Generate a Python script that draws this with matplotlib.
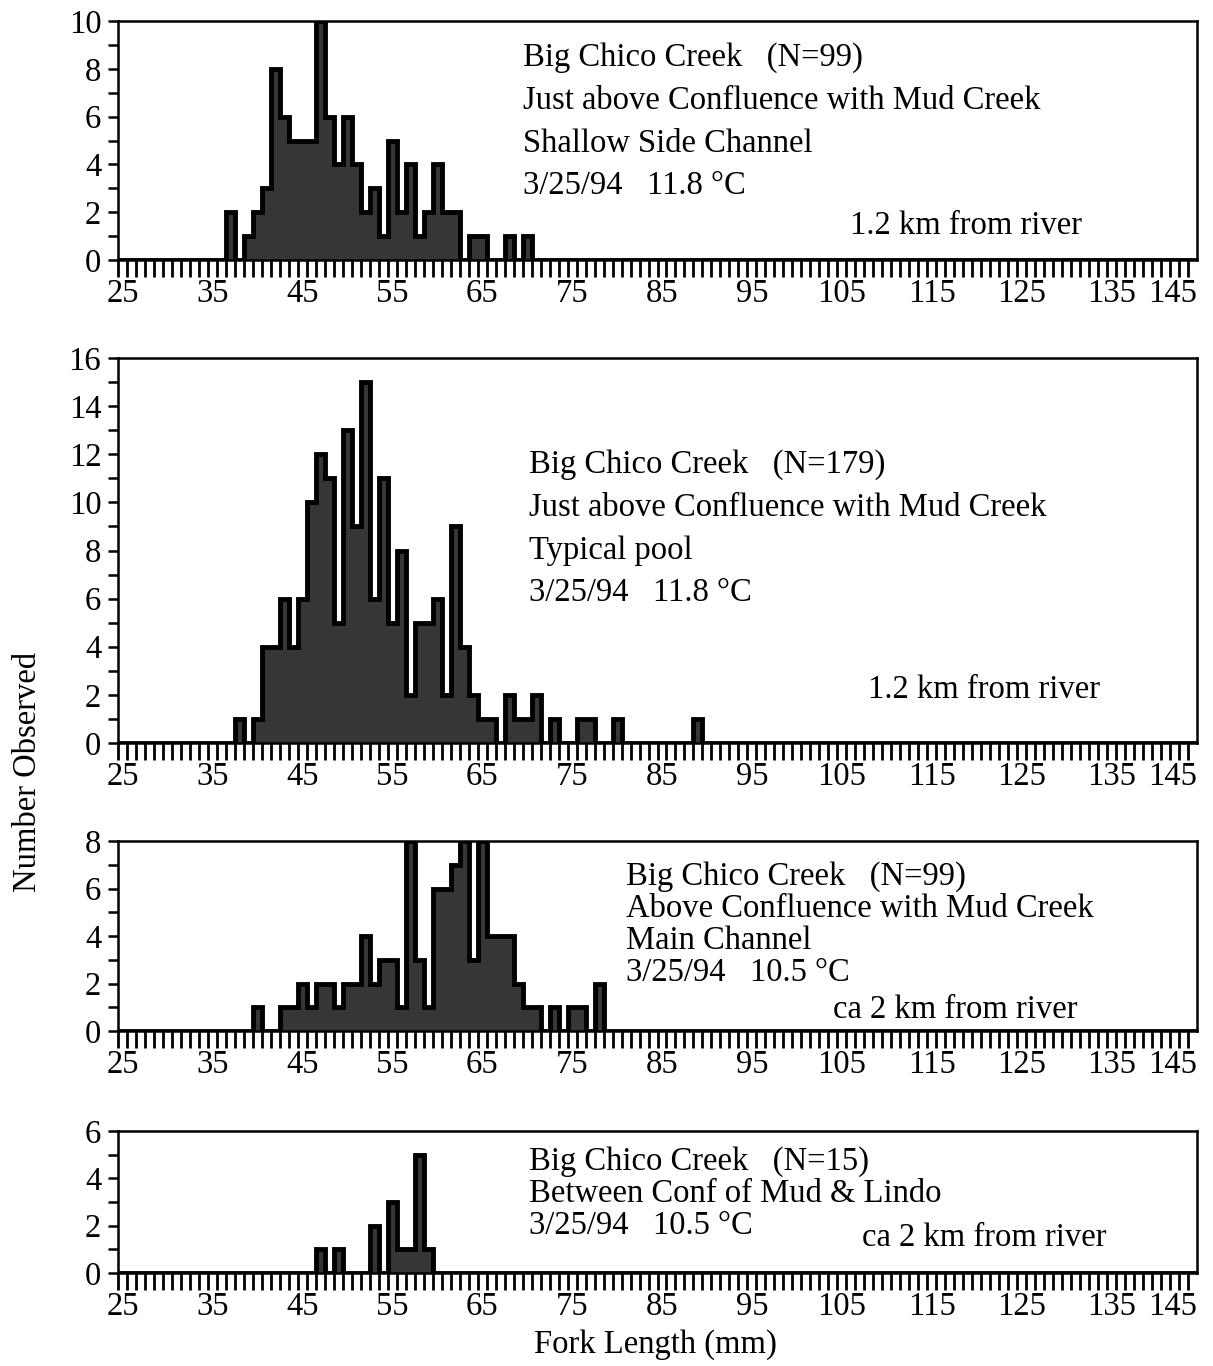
import matplotlib
matplotlib.use('Agg')
import matplotlib.pyplot as plt
import numpy as np

plt.rcParams['font.family'] = ['Liberation Serif', 'DejaVu Serif']

# fork length (mm) and number of fish, one pair per site
len1 = [37, 39, 40, 41, 42, 43, 44, 45, 46, 47, 48, 49, 50, 51, 52, 53, 54, 55, 56, 57, 58, 59, 60, 61, 62, 64, 65, 68, 70]
cnt1 = [2, 1, 2, 3, 8, 6, 5, 5, 5, 10, 6, 4, 6, 4, 2, 3, 1, 5, 2, 4, 1, 2, 4, 2, 2, 1, 1, 1, 1]

len2 = [38, 40, 41, 42, 43, 44, 45, 46, 47, 48, 49, 50, 51, 52, 53, 54, 55, 56, 57, 58, 59, 60, 61, 62, 63, 64, 65, 66, 68, 69, 70, 71, 73, 76, 77, 80, 89]
cnt2 = [1, 1, 4, 4, 6, 4, 6, 10, 12, 11, 5, 13, 9, 15, 6, 11, 5, 8, 2, 5, 5, 6, 2, 9, 4, 2, 1, 1, 2, 1, 1, 2, 1, 1, 1, 1, 1]

len3 = [40, 43, 44, 45, 46, 47, 48, 49, 50, 51, 52, 53, 54, 55, 56, 57, 58, 59, 60, 61, 62, 63, 64, 65, 66, 67, 68, 69, 70, 71, 73, 75, 76, 78]
cnt3 = [1, 1, 1, 2, 1, 2, 2, 1, 2, 2, 4, 2, 3, 3, 1, 8, 3, 1, 6, 6, 7, 8, 3, 8, 4, 4, 4, 2, 1, 1, 1, 1, 1, 2]

len4 = [47, 49, 53, 55, 56, 57, 58, 59]
cnt4 = [1, 1, 2, 3, 1, 1, 5, 1]

ymax = [10, 16, 8, 6]

notes = [
    ["Big Chico Creek   (N=99)", "Just above Confluence with Mud Creek",
     "Shallow Side Channel", "3/25/94   11.8 \u00b0C"],
    ["Big Chico Creek   (N=179)", "Just above Confluence with Mud Creek",
     "Typical pool", "3/25/94   11.8 \u00b0C"],
    ["Big Chico Creek   (N=99)", "Above Confluence with Mud Creek",
     "Main Channel", "3/25/94   10.5 \u00b0C"],
    ["Big Chico Creek   (N=15)", "Between Conf of Mud & Lindo",
     "3/25/94   10.5 \u00b0C"],
]
dist = ["1.2 km from river", "1.2 km from river", "ca 2 km from river", "ca 2 km from river"]

xticks = [25, 35, 45, 55, 65, 75, 85, 95, 105, 115, 125, 135, 145]

W, H = 1213, 1366
fig = plt.figure(figsize=(W / 100, H / 100), dpi=100)

# panel boxes in pixels: top, bottom
boxes = [(21, 260), (358, 743), (841, 1031), (1131, 1273)]
# text placement in pixels: x, first line y, line step, distance text x, y
txt = [(523, 58, 42.7, 850, 226),
       (529, 465, 42.7, 868, 690),
       (626, 877, 32, 833, 1010),
       (529, 1162, 32, 862, 1238)]

lens = [len1, len2, len3, len4]
cnts = [cnt1, cnt2, cnt3, cnt4]
fs = 23.5
edges = np.arange(24.5, 145, 1)

for i in range(4):
    top, bot = boxes[i]
    ax = fig.add_axes([118 / W, 1 - bot / H, (1197 - 118) / W, (bot - top) / H])
    # counts per 1 mm bin, bins centred on whole mm
    full = np.zeros(len(edges) - 1)
    full[np.array(lens[i]) - 25] = cnts[i]
    ax.stairs(full, edges, fill=True, color='#363636')
    ax.stairs(full, edges, baseline=0, color='black', linewidth=3.5)
    ax.set_xlim(24.5, 144.5)
    ax.set_ylim(0, ymax[i])
    ax.set_yticks(np.arange(0, ymax[i] + 1, 2))
    ax.set_yticks(np.arange(0, ymax[i] + 1, 1), minor=True)
    ax.set_xticks(edges, minor=True)
    ax.set_xticks(xticks[:-1] + [144.5])
    ax.set_xticklabels([str(v) for v in xticks])
    ax.tick_params(axis='x', which='major', length=0, pad=13, labelsize=fs)
    ax.tick_params(axis='x', which='minor', length=12, width=2, direction='out')
    ax.tick_params(axis='y', which='both', length=7, width=1.8, direction='out', labelsize=fs, pad=5)
    ax.get_xticklabels()[-1].set_ha('right')
    for s in ax.spines.values():
        s.set_linewidth(1.8)

    x0, y0, step, dx, dy = txt[i]
    for j, line in enumerate(notes[i]):
        fig.text(x0 / W, 1 - (y0 + j * step) / H, line, fontsize=fs, va='center', ha='left')
    fig.text(dx / W, 1 - dy / H, dist[i], fontsize=fs, va='center', ha='left')

fig.text(28 / W, 1 - 772 / H, "Number Observed", fontsize=fs, rotation=90, va='center', ha='center')
fig.text(655 / W, 1 - 1345 / H, "Fork Length (mm)", fontsize=fs, va='center', ha='center')

fig.savefig('out.png', dpi=100)
